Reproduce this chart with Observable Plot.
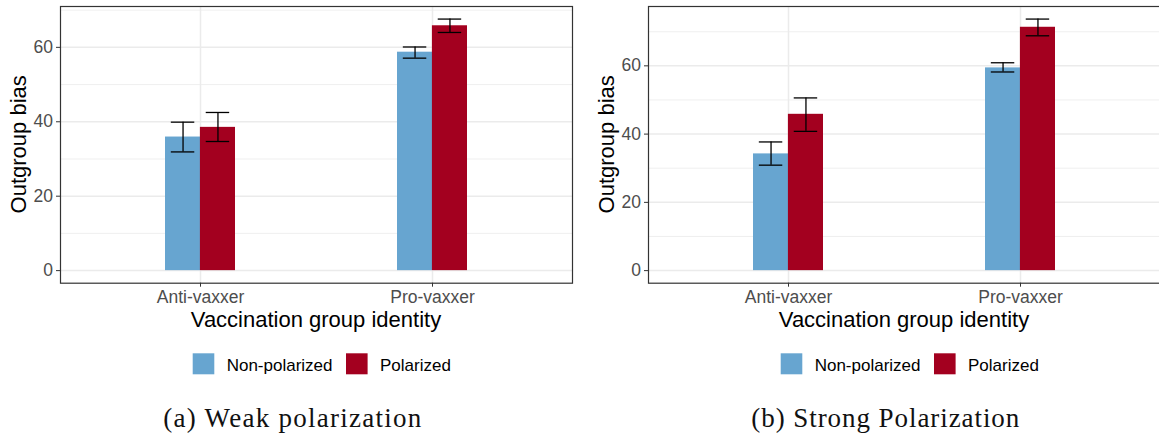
<!DOCTYPE html>
<html><head><meta charset="utf-8">
<script src="https://cdn.jsdelivr.net/npm/d3@7"></script>
<script src="https://cdn.jsdelivr.net/npm/@observablehq/plot@0.6"></script>
<style>
body{margin:0;background:#fff;}
#root{position:relative;width:1159px;height:434px;overflow:hidden;background:#fff;}
#root > svg, #root > figure{position:absolute;top:0;margin:0;}
</style></head><body><div id="root"></div>
<script>
const categories = ["Anti-vaxxer", "Pro-vaxxer"];
const groups = ["Non-polarized", "Polarized"];
const groupColors = ["#67A5D0", "#A3001F"];
const yTicksMajor = [0, 20, 40, 60];
const yTicksMinor = [10, 30, 50, 70];
const panelTitles = ["(a) Weak polarization", "(b) Strong Polarization"];
const xTitle = "Vaccination group identity";
const yTitle = "Outgroup bias";

// (a) Weak polarization
const weakNonPolarized = [35.9, 58.7];
const weakNonPolarizedLow = [31.9, 57.1];
const weakNonPolarizedHigh = [39.9, 60.1];
const weakPolarized = [38.5, 65.8];
const weakPolarizedLow = [34.7, 64.0];
const weakPolarizedHigh = [42.5, 67.6];

// (b) Strong polarization
const strongNonPolarized = [34.2, 59.4];
const strongNonPolarizedLow = [30.9, 58.2];
const strongNonPolarizedHigh = [37.7, 60.9];
const strongPolarized = [45.8, 71.3];
const strongPolarizedLow = [40.8, 68.8];
const strongPolarizedHigh = [50.6, 73.7];

function rowsOf(np, npLo, npHi, p, pLo, pHi) {
  return categories.flatMap((c, i) => [
    {cat: c, group: groups[0], value: np[i], lo: npLo[i], hi: npHi[i]},
    {cat: c, group: groups[1], value: p[i], lo: pLo[i], hi: pHi[i]}
  ]);
}

const FONT = "Liberation Sans, Arial, Helvetica, sans-serif";
const W = 580, H = 330, ML = 60, MR = 8, MT = 6, MB = 47.3;

function panel(rows) {
  const inner = W - ML - MR;
  const pI = 0.7, pO = 0.45;
  const step = inner / (categories.length - pI + 2 * pO);
  const bw = step * (1 - pI);
  const half = bw / 2;
  const capW = step * 0.1;
  const capInset = (half - capW) / 2;
  const top = d3.max(rows, d => d.hi);
  const pad = top * 0.05;
  const r0 = rows.filter(d => d.group === groups[0]);
  const r1 = rows.filter(d => d.group === groups[1]);
  return Plot.plot({
    width: W, height: H, marginLeft: ML, marginRight: MR, marginTop: MT, marginBottom: MB,
    style: {fontFamily: FONT, background: "transparent", overflow: "visible"},
    x: {domain: categories, paddingInner: pI, paddingOuter: pO},
    y: {domain: [-pad, top + pad]},
    marks: [
      Plot.gridY(yTicksMinor, {stroke: "#ebebeb", strokeOpacity: 1, strokeWidth: 0.8}),
      Plot.gridY(yTicksMajor, {stroke: "#ebebeb", strokeOpacity: 1, strokeWidth: 1.5}),
      Plot.gridX(categories, {stroke: "#ebebeb", strokeOpacity: 1, strokeWidth: 1.5}),
      Plot.barY(r0, {x: "cat", y: "value", fill: groupColors[0], insetRight: half}),
      Plot.barY(r1, {x: "cat", y: "value", fill: groupColors[1], insetLeft: half}),
      Plot.ruleX(r0, {x: "cat", y1: "lo", y2: "hi", stroke: "#000", strokeWidth: 1.3, dx: -half / 2}),
      Plot.ruleX(r1, {x: "cat", y1: "lo", y2: "hi", stroke: "#000", strokeWidth: 1.3, dx: half / 2}),
      Plot.tickY(r0, {x: "cat", y: "lo", stroke: "#000", strokeWidth: 1.3, insetLeft: capInset, insetRight: half + capInset}),
      Plot.tickY(r0, {x: "cat", y: "hi", stroke: "#000", strokeWidth: 1.3, insetLeft: capInset, insetRight: half + capInset}),
      Plot.tickY(r1, {x: "cat", y: "lo", stroke: "#000", strokeWidth: 1.3, insetLeft: half + capInset, insetRight: capInset}),
      Plot.tickY(r1, {x: "cat", y: "hi", stroke: "#000", strokeWidth: 1.3, insetLeft: half + capInset, insetRight: capInset}),
      Plot.frame({stroke: "#333", strokeWidth: 1.2}),
      Plot.axisY(yTicksMajor, {tickSize: 4, tickPadding: 3.5, fontSize: 17.5, stroke: "#333", fill: "#4d4d4d", label: null}),
      Plot.axisX({tickSize: 4, tickPadding: 3, fontSize: 17.5, stroke: "#333", fill: "#4d4d4d", label: null})
    ]
  });
}

const root = document.getElementById("root");
const panels = [
  rowsOf(weakNonPolarized, weakNonPolarizedLow, weakNonPolarizedHigh, weakPolarized, weakPolarizedLow, weakPolarizedHigh),
  rowsOf(strongNonPolarized, strongNonPolarizedLow, strongNonPolarizedHigh, strongPolarized, strongPolarizedLow, strongPolarizedHigh)
];
const offsets = [0, 588];
panels.forEach((rows, k) => {
  const el = panel(rows);
  el.style.left = offsets[k] + "px";
  root.appendChild(el);
});

// overlay text: titles, legend, captions
const ov = d3.select(root).append("svg")
  .attr("width", 1159).attr("height", 434)
  .style("left", "0px").style("pointer-events", "none");
const captionWidths = [258, 268];
offsets.forEach((ox, k) => {
  const frameCx = ox + ML + (W - ML - MR) / 2;
  const frameCy = MT + (H - MT - MB) / 2;
  ov.append("text")
    .attr("transform", `translate(${ox + 25.5},${frameCy}) rotate(-90)`)
    .attr("text-anchor", "middle")
    .style("font-family", FONT).style("font-size", "22px").attr("fill", "#000")
    .text(yTitle);
  ov.append("text")
    .attr("x", frameCx).attr("y", 326.5)
    .attr("text-anchor", "middle")
    .style("font-family", FONT).style("font-size", "22px").attr("fill", "#000")
    .text(xTitle);
  // legend
  const lx = [ox + 192.7, ox + 346];
  groups.forEach((g, j) => {
    ov.append("rect").attr("x", lx[j]).attr("y", 353.3).attr("width", 21.6).attr("height", 21)
      .attr("fill", groupColors[j]);
    ov.append("text").attr("x", lx[j] + 34).attr("y", 370.5)
      .style("font-family", FONT).style("font-size", "17px").attr("fill", "#000")
      .text(g);
  });
  // caption
  ov.append("text")
    .attr("x", ox + 163.3).attr("y", 426.5)
    .attr("textLength", captionWidths[k]).attr("lengthAdjust", "spacing")
    .style("font-family", "Liberation Serif, Times New Roman, serif").style("font-size", "27px").attr("fill", "#111")
    .text(panelTitles[k]);
});
</script>
</body></html>
